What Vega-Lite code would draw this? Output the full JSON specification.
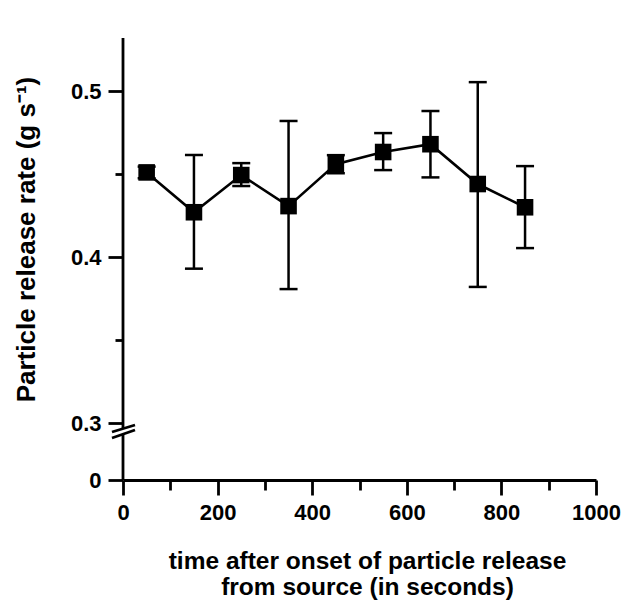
{
  "$schema": "https://vega.github.io/schema/vega-lite/v6.json",
  "autosize": {"type": "none"},
  "width": 473,
  "height": 442,
  "padding": {"left": 123, "top": 38, "right": 26, "bottom": 125},
  "background": "white",
  "datasets": {
    "pts": [
      {"t": 50, "rate": 0.451, "lo": 0.4475, "hi": 0.4545},
      {"t": 150, "rate": 0.427, "lo": 0.393, "hi": 0.4615},
      {"t": 250, "rate": 0.4494, "lo": 0.4428, "hi": 0.4566},
      {"t": 350, "rate": 0.4307, "lo": 0.3807, "hi": 0.482},
      {"t": 450, "rate": 0.456, "lo": 0.4505, "hi": 0.4614},
      {"t": 550, "rate": 0.4633, "lo": 0.4524, "hi": 0.4747},
      {"t": 650, "rate": 0.468, "lo": 0.448, "hi": 0.488},
      {"t": 750, "rate": 0.444, "lo": 0.382, "hi": 0.5054},
      {"t": 850, "rate": 0.43, "lo": 0.4054, "hi": 0.4548}
    ],
    "axisline": [
      {"x": 0, "x2": 0, "y": 0.2705, "y2": 0.532},
      {"x": 0, "x2": 0, "y": 0, "y2": 0.2368},
      {"x": -23.3, "x2": 25.4, "y": 0.2526, "y2": 0.2895},
      {"x": -23.3, "x2": 25.4, "y": 0.2211, "y2": 0.2632}
    ]
  },
  "resolve": {"axis": {"x": "independent", "y": "independent"}},
  "layer": [
    {
      "data": {"name": "axisline"},
      "mark": {"type": "rule", "color": "black", "strokeWidth": 2.8, "clip": false},
      "encoding": {
        "x": {
          "field": "x", "type": "quantitative",
          "scale": {"domain": [0, 1000], "nice": false, "zero": false},
          "axis": {
            "orient": "bottom",
            "values": [0, 200, 400, 600, 800, 1000],
            "format": "d",
            "tickSize": 15,
            "labelPadding": 7,
            "labelFlush": false,
            "labelOverlap": false,
            "title": ["time after onset of particle release", "from source (in seconds)"],
            "titleFontSize": 24.5,
            "titleLineHeight": 26,
            "titleBaseline": "alphabetic",
            "titleX": 244,
            "titleY": 88
          }
        },
        "x2": {"field": "x2"},
        "y": {
          "field": "y", "type": "quantitative",
          "scale": {"domain": [0, 0.3, 0.532], "range": [442, 385, 0], "nice": false, "zero": false},
          "axis": {
            "orient": "left",
            "values": [0, 0.3, 0.4, 0.5],
            "domain": false,
            "tickSize": 15,
            "labelPadding": 7,
            "labelExpr": "datum.value == 0 ? '0' : format(datum.value, '.1f')",
            "title": "Particle release rate (g s⁻¹)",
            "titleFontSize": 26,
            "titleAngle": 270,
            "titleBaseline": "alphabetic",
            "titleAlign": "center",
            "titleX": -89,
            "titleY": 201
          }
        },
        "y2": {"field": "y2"}
      }
    },
    {
      "data": {"name": "pts"},
      "mark": {"type": "rule", "color": "black", "strokeWidth": 2.5},
      "encoding": {
        "x": {
          "field": "t", "type": "quantitative",
          "scale": {"domain": [0, 1000], "nice": false, "zero": false},
          "axis": {"orient": "bottom", "values": [100, 300, 500, 700, 900], "tickSize": 10, "labels": false, "domain": false, "title": null}
        },
        "y": {
          "field": "lo", "type": "quantitative",
          "scale": {"domain": [0, 0.3, 0.532], "range": [442, 385, 0], "nice": false, "zero": false},
          "axis": {"orient": "left", "values": [0.35, 0.45], "tickSize": 8, "labels": false, "domain": false, "title": null}
        },
        "y2": {"field": "hi"}
      }
    },
    {
      "data": {"name": "pts"},
      "mark": {"type": "tick", "orient": "horizontal", "color": "black", "size": 18, "thickness": 2.5, "opacity": 1},
      "encoding": {
        "x": {"field": "t", "type": "quantitative", "scale": {"domain": [0, 1000], "nice": false, "zero": false}, "axis": null},
        "y": {"field": "lo", "type": "quantitative", "scale": {"domain": [0, 0.3, 0.532], "range": [442, 385, 0], "nice": false, "zero": false}, "axis": null}
      }
    },
    {
      "data": {"name": "pts"},
      "mark": {"type": "tick", "orient": "horizontal", "color": "black", "size": 18, "thickness": 2.5, "opacity": 1},
      "encoding": {
        "x": {"field": "t", "type": "quantitative", "scale": {"domain": [0, 1000], "nice": false, "zero": false}, "axis": null},
        "y": {"field": "hi", "type": "quantitative", "scale": {"domain": [0, 0.3, 0.532], "range": [442, 385, 0], "nice": false, "zero": false}, "axis": null}
      }
    },
    {
      "data": {"name": "pts"},
      "mark": {"type": "line", "color": "black", "strokeWidth": 2.6},
      "encoding": {
        "x": {"field": "t", "type": "quantitative", "scale": {"domain": [0, 1000], "nice": false, "zero": false}, "axis": null},
        "y": {"field": "rate", "type": "quantitative", "scale": {"domain": [0, 0.3, 0.532], "range": [442, 385, 0], "nice": false, "zero": false}, "axis": null}
      }
    },
    {
      "data": {"name": "pts"},
      "mark": {"type": "point", "shape": "square", "filled": true, "color": "black", "size": 275, "opacity": 1},
      "encoding": {
        "x": {"field": "t", "type": "quantitative", "scale": {"domain": [0, 1000], "nice": false, "zero": false}, "axis": null},
        "y": {"field": "rate", "type": "quantitative", "scale": {"domain": [0, 0.3, 0.532], "range": [442, 385, 0], "nice": false, "zero": false}, "axis": null}
      }
    }
  ],
  "config": {
    "view": {"stroke": null},
    "axis": {
      "grid": false,
      "domainColor": "black",
      "domainWidth": 2.8,
      "tickColor": "black",
      "tickWidth": 2.8,
      "labelColor": "black",
      "titleColor": "black",
      "labelFont": "Liberation Sans",
      "labelFontWeight": "bold",
      "labelFontSize": 22,
      "titleFont": "Liberation Sans",
      "titleFontWeight": "bold"
    }
  }
}
